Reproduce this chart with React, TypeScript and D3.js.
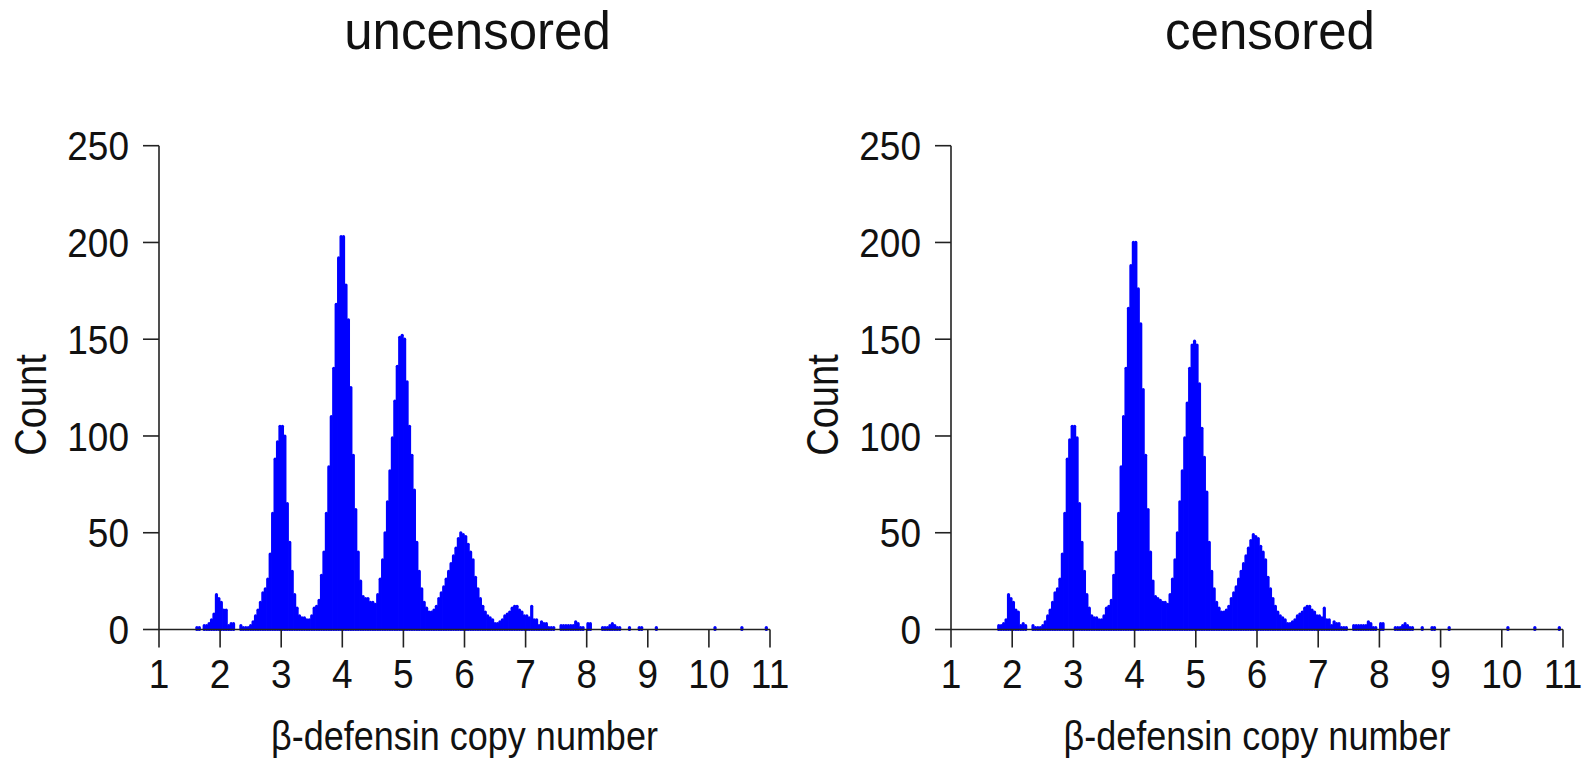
import React from "react";
import * as d3 from "d3";

// Histogram bins: centre of first bin and bin width (copy-number units)
const binStart = 1.58;
const binWidth = 0.04;

// Counts per bin, from 1.58 upward in steps of 0.04 (uncensored)
const uncensoredCounts = [
  0, 1, 1, 0, 2, 2, 3, 5, 8, 18, 16, 14, 10, 10, 2, 3, 3, 0, 0, 2,
  1, 1, 1, 2, 4, 7, 10, 14, 19, 21, 26, 39, 60, 88, 97, 105, 105, 100, 65, 45,
  30, 18, 11, 7, 6, 6, 5, 5, 7, 11, 12, 15, 28, 40, 60, 84, 110, 135, 168, 192,
  203, 203, 178, 160, 125, 90, 62, 40, 25, 17, 16, 16, 14, 14, 13, 18, 26, 36, 50, 66,
  82, 99, 118, 136, 151, 152, 150, 128, 105, 90, 72, 45, 30, 21, 14, 11, 9, 9, 10, 12,
  16, 19, 22, 26, 30, 34, 38, 42, 47, 50, 49, 48, 44, 40, 36, 27, 21, 16, 12, 9,
  7, 6, 5, 3, 3, 4, 5, 7, 8, 9, 11, 12, 12, 10, 9, 7, 7, 6, 12, 5,
  5, 2, 4, 3, 3, 1, 1, 1, 0, 0, 2, 2, 2, 2, 2, 2, 4, 3, 1, 1,
  0, 3, 3, 0, 0, 0, 0, 1, 1, 1, 2, 3, 2, 1, 1, 0, 0, 0, 1, 0,
  0, 0, 1, 1, 0, 0, 0, 0, 0, 1,
];

// Counts per bin, same bins (censored)
const censoredCounts = [
  0, 0, 0, 0, 0, 2, 2, 3, 5, 18, 16, 14, 10, 9, 2, 3, 2, 0, 0, 2,
  1, 1, 1, 2, 4, 7, 10, 14, 19, 21, 26, 39, 60, 88, 98, 105, 105, 99, 65, 45,
  30, 18, 11, 7, 6, 6, 5, 5, 7, 11, 12, 15, 28, 40, 60, 84, 110, 135, 166, 188,
  200, 200, 176, 158, 124, 90, 62, 40, 25, 17, 16, 15, 14, 14, 13, 18, 26, 36, 50, 66,
  82, 99, 117, 135, 147, 149, 147, 127, 104, 89, 71, 45, 30, 21, 14, 11, 9, 9, 10, 12,
  16, 19, 22, 26, 30, 34, 38, 42, 46, 49, 48, 47, 43, 40, 36, 27, 21, 16, 12, 9,
  7, 6, 5, 3, 3, 4, 5, 7, 8, 9, 11, 12, 12, 10, 9, 7, 7, 6, 11, 5,
  5, 2, 4, 3, 3, 1, 1, 1, 0, 0, 2, 2, 2, 2, 2, 2, 4, 3, 1, 1,
  0, 3, 3, 0, 0, 0, 0, 1, 1, 1, 2, 3, 2, 1, 1, 0, 0, 0, 1, 0,
  0, 0, 1, 1, 0, 0, 0, 0, 0, 1,
];

// Isolated far-tail observations
const farTailX = [10.1, 10.54, 10.94];
const farTailUncensored = [1, 1, 1];
const farTailCensored = [1, 1, 1];

const xTicks = [1, 2, 3, 4, 5, 6, 7, 8, 9, 10, 11];
const yTicks = [0, 50, 100, 150, 200, 250];

const panelTitles = ["uncensored", "censored"];
const xAxisTitle = "\u03b2-defensin copy number";
const yAxisTitle = "Count";

const FONT = "'Liberation Sans', Arial, Helvetica, sans-serif";
const BLUE = "#0000ff";
const AXIS = "#222";
const INK = "#111";

type TProps = {
  x: number;
  y: number;
  size: number;
  sy?: number;
  rotate?: number;
  anchor?: "start" | "middle" | "end";
  children: React.ReactNode;
};

function T({ x, y, size, sy = 1.12, rotate = 0, anchor = "middle", children }: TProps) {
  return (
    <text
      transform={`translate(${x},${y}) rotate(${rotate}) scale(1,${sy})`}
      textAnchor={anchor}
      fontFamily={FONT}
      fontSize={size}
      fill={INK}
    >
      {children}
    </text>
  );
}

type PanelProps = {
  title: string;
  counts: number[];
  farCounts: number[];
  x0: number;
  x1: number;
};

function Panel({ title, counts, farCounts, x0, x1 }: PanelProps) {
  const x = d3.scaleLinear().domain([1, 11]).range([x0, x1]);
  const y = d3.scaleLinear().domain([0, 250]).range([629.5, 145.7]);

  const pts: { v: number; c: number }[] = [];
  counts.forEach((c, i) => {
    if (c > 0) pts.push({ v: binStart + i * binWidth, c });
  });
  farCounts.forEach((c, i) => {
    if (c > 0) pts.push({ v: farTailX[i], c });
  });

  const tickLen = 16;
  const mid = (x0 + x1) / 2;
  const tickFs = 37;
  const tickSy = 1.1;

  return (
    <g>
      {/* data: vertical histogram lines */}
      <g stroke={BLUE} strokeWidth={3.2} strokeLinecap="round">
        {pts.map((p, i) => (
          <line key={i} x1={x(p.v)} x2={x(p.v)} y1={y(0)} y2={y(p.c)} />
        ))}
      </g>

      {/* y axis */}
      <line x1={x0} x2={x0} y1={y(0)} y2={y(250)} stroke={AXIS} strokeWidth={1.6} />
      {yTicks.map((t) => (
        <g key={t}>
          <line x1={x0 - tickLen} x2={x0} y1={y(t)} y2={y(t)} stroke={AXIS} strokeWidth={1.6} />
          <T x={x0 - 30} y={y(t) + 0.358 * tickFs * tickSy} size={tickFs} sy={tickSy} anchor="end">
            {t}
          </T>
        </g>
      ))}

      {/* x axis */}
      <line x1={x(1)} x2={x(11)} y1={y(0)} y2={y(0)} stroke={AXIS} strokeWidth={1.6} />
      {xTicks.map((t) => (
        <g key={t}>
          <line x1={x(t)} x2={x(t)} y1={y(0)} y2={y(0) + tickLen + 2} stroke={AXIS} strokeWidth={1.6} />
          <T x={x(t)} y={688} size={tickFs} sy={tickSy}>
            {t}
          </T>
        </g>
      ))}

      {/* titles */}
      <T x={mid + 13} y={48.5} size={51} sy={1.06}>
        {title}
      </T>
      <T x={mid} y={750} size={36} sy={1.15}>
        {xAxisTitle}
      </T>
      <T x={x0 - 113.5} y={405} size={38} sy={1.18} rotate={-90}>
        {yAxisTitle}
      </T>
    </g>
  );
}

export default function App() {
  return (
    <svg
      width={1587}
      height={762}
      style={{ position: "fixed", left: 0, top: 0, background: "#fff" }}
    >
      <rect width={1587} height={762} fill="#fff" />
      <Panel title={panelTitles[0]} counts={uncensoredCounts} farCounts={farTailUncensored} x0={159} x1={770} />
      <Panel title={panelTitles[1]} counts={censoredCounts} farCounts={farTailCensored} x0={951} x1={1563} />
    </svg>
  );
}
